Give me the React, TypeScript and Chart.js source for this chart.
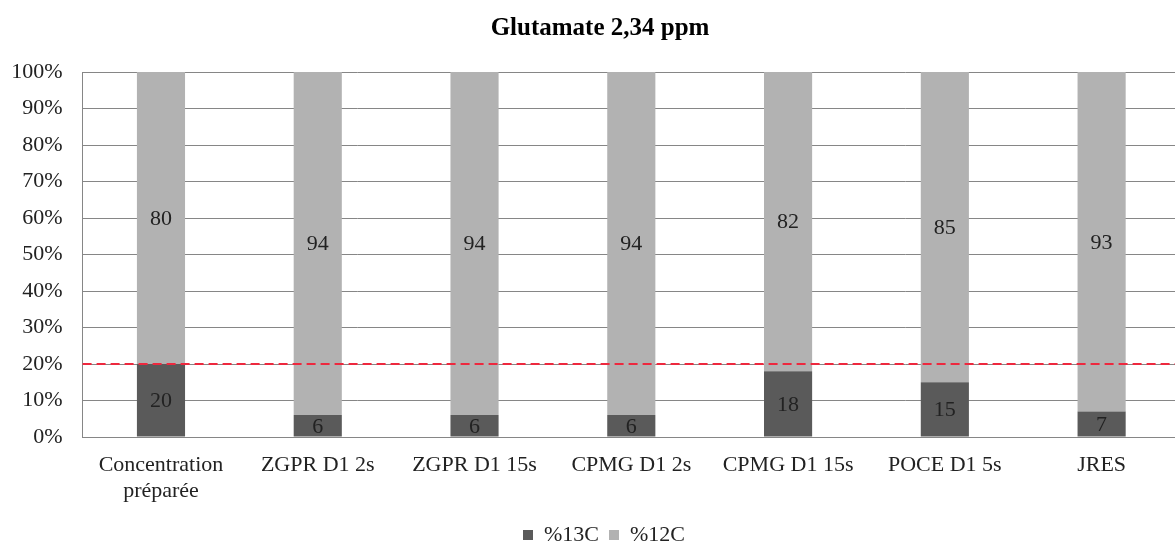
import React, { useEffect, useRef } from "react";
import { Chart, registerables } from "chart.js";

Chart.register(...registerables);

const chartTitle = "Glutamate 2,34 ppm";
const categories: (string | string[])[] = [
  ["Concentration", "préparée"],
  "ZGPR D1 2s",
  "ZGPR D1 15s",
  "CPMG D1 2s",
  "CPMG D1 15s",
  "POCE D1 5s",
  "JRES",
];
const pct13C = [20, 6, 6, 6, 18, 15, 7];
const pct12C = [80, 94, 94, 94, 82, 85, 93];
const seriesNames = ["%13C", "%12C"];
const referenceLevel = 20;

const FONT = "'Liberation Serif', 'Times New Roman', serif";

const refLinePlugin = {
  id: "refLine",
  afterLayout(chart: any) {
    if (chart.titleBlock) chart.titleBlock.left += 12;
    if (chart.legend) chart.legend.left += 20;
  },
  afterDatasetsDraw(chart: any) {
    const { ctx, chartArea, scales } = chart;
    const y = scales.y.getPixelForValue(referenceLevel);
    ctx.save();
    ctx.strokeStyle = "rgb(238,40,62)";
    ctx.lineWidth = 2;
    ctx.setLineDash([9, 5]);
    ctx.beginPath();
    ctx.moveTo(chartArea.left, y);
    ctx.lineTo(chartArea.right, y);
    ctx.stroke();
    ctx.restore();
  },
};

const labelsPlugin = {
  id: "barLabels",
  afterDatasetsDraw(chart: any) {
    const { ctx } = chart;
    ctx.save();
    ctx.font = `22px ${FONT}`;
    ctx.fillStyle = "#222222";
    ctx.textAlign = "center";
    ctx.textBaseline = "middle";
    chart.data.datasets.forEach((ds: any, i: number) => {
      const meta = chart.getDatasetMeta(i);
      meta.data.forEach((bar: any, j: number) => {
        const v = ds.data[j];
        const cy = (bar.y + bar.base) / 2;
        ctx.fillText(String(v), bar.x, cy + 1);
      });
    });
    ctx.restore();
  },
};

export default function App() {
  const ref = useRef<HTMLCanvasElement | null>(null);

  useEffect(() => {
    if (!ref.current) return;
    const chart = new Chart(ref.current, {
      type: "bar",
      data: {
        labels: categories,
        datasets: [
          {
            label: seriesNames[0],
            data: pct13C,
            backgroundColor: "#5a5a5a",
            barPercentage: 0.307,
            categoryPercentage: 1,
          },
          {
            label: seriesNames[1],
            data: pct12C,
            backgroundColor: "#b2b2b2",
            barPercentage: 0.307,
            categoryPercentage: 1,
          },
        ],
      },
      options: {
        responsive: false,
        animation: false,
        layout: { padding: { left: 8, right: 0, top: 0, bottom: 0 } },
        plugins: {
          title: {
            display: true,
            text: chartTitle,
            color: "#000000",
            font: { family: FONT, size: 25, weight: "bold", lineHeight: 1.2 },
            padding: { top: 14, bottom: 28 },
          },
          legend: {
            position: "bottom",
            labels: {
              boxWidth: 10,
              boxHeight: 10,
              padding: 10,
              color: "#222222",
              font: { family: FONT, size: 22 },
            },
          },
          tooltip: { enabled: false },
        },
        scales: {
          x: {
            stacked: true,
            grid: { display: false, drawTicks: false },
            border: { display: true, color: "#868686", width: 1 },
            ticks: {
              color: "#222222",
              padding: 15,
              maxRotation: 0,
              autoSkip: false,
              font: { family: FONT, size: 22, lineHeight: 1.2 },
            },
            afterFit(s: any) {
              s.height = 77;
            },
          },
          y: {
            stacked: true,
            min: 0,
            max: 100,
            grid: { color: "#868686", lineWidth: 1, drawTicks: false },
            border: { display: true, color: "#868686", width: 1 },
            ticks: {
              stepSize: 10,
              color: "#222222",
              padding: 20,
              font: { family: FONT, size: 22 },
              callback: (v: any) => `${v}%`,
            },
            afterFit(s: any) {
              s.width = 74.6;
            },
          },
        },
      },
      plugins: [refLinePlugin, labelsPlugin],
    });
    return () => chart.destroy();
  }, []);

  return (
    <div
      style={{
        position: "fixed",
        left: 0,
        top: 0,
        width: 1180,
        height: 556,
        background: "#ffffff",
      }}
    >
      <canvas ref={ref} width={1180} height={556} />
    </div>
  );
}
